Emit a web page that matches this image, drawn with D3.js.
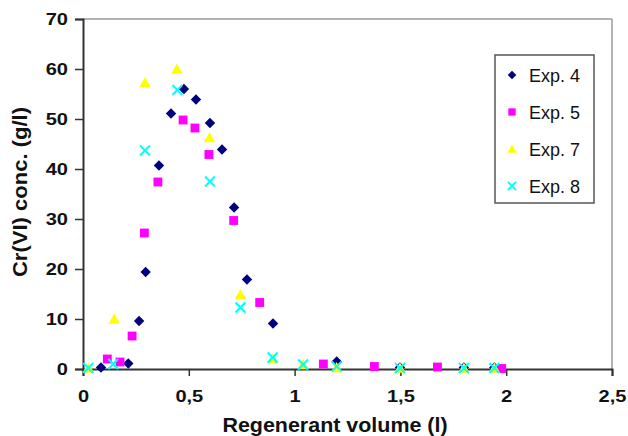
<!DOCTYPE html>
<html><head><meta charset="utf-8">
<script src="https://cdn.jsdelivr.net/npm/d3@7"></script>
<style>body{margin:0;background:#fff}svg{display:block}text{font-family:"Liberation Sans",Arial,sans-serif}</style>
</head><body>
<svg id="c" width="628" height="436"></svg>
<script>
const seriesNames = ["Exp. 4","Exp. 5","Exp. 7","Exp. 8"];
const exp4X = [0.085,0.214,0.265,0.296,0.359,0.416,0.477,0.534,0.600,0.657,0.714,0.775,0.898,1.199,1.498,1.80,1.944];
const exp4Y = [0.3,1.1,9.6,19.4,40.7,51.1,56.0,53.9,49.2,43.9,32.3,17.9,9.1,1.5,0.3,0.3,0.3];
const exp5X = [0.115,0.175,0.232,0.290,0.354,0.473,0.529,0.595,0.712,0.835,1.136,1.377,1.675,1.979];
const exp5Y = [2.0,1.4,6.6,27.2,37.4,49.8,48.2,42.9,29.7,13.3,1.0,0.5,0.4,0.1];
const exp7X = [0.025,0.148,0.293,0.444,0.598,0.744,0.896,1.04,1.199,1.498,1.80,1.944];
const exp7Y = [0.2,10.0,57.3,60.0,46.3,14.9,2.1,0.9,0.3,0.2,0.2,0.2];
const exp8X = [0.025,0.143,0.293,0.446,0.600,0.744,0.896,1.04,1.199,1.498,1.80,1.944];
const exp8Y = [0.2,1.0,43.7,55.8,37.5,12.3,2.3,0.9,0.5,0.2,0.2,0.2];
const xTicks = [0,0.5,1,1.5,2,2.5];
const yTicks = [0,10,20,30,40,50,60,70];

const svg = d3.select("#c");
const x = d3.scaleLinear().domain([0,2.5]).range([83,612]);
const y = d3.scaleLinear().domain([0,70]).range([369,19]);
const fmt = d => String(d).replace(".", ",");

// frame top/right
svg.append("line").attr("x1",83).attr("x2",612).attr("y1",19).attr("y2",19).attr("stroke","#9a9a9a").attr("stroke-width",1.5);
svg.append("line").attr("x1",612).attr("x2",612).attr("y1",19).attr("y2",369).attr("stroke","#9a9a9a").attr("stroke-width",1.5);

const sx = 1.18;
const gx = svg.append("g").attr("transform","translate(0,369)")
  .call(d3.axisBottom(x).tickValues(xTicks).tickFormat(fmt).tickSize(7).tickPadding(13.5));
const gy = svg.append("g").attr("transform","translate(83,0)")
  .call(d3.axisLeft(y).tickValues(yTicks).tickSize(8).tickPadding(7));
[gx,gy].forEach(g=>{
  g.select(".domain").attr("stroke","#333").attr("stroke-width",2);
  g.selectAll(".tick line").attr("stroke","#333").attr("stroke-width",1.5);
  g.selectAll(".tick text").attr("fill","#111").style("font-size","17px").style("font-weight","bold")
    .attr("transform",`scale(${sx},1)`);
});
gy.selectAll(".tick text").attr("x", -15/sx);

svg.append("text").attr("transform","translate(335,431.5) scale(1.1,1)").attr("text-anchor","middle")
  .style("font-size","19.5px").style("font-weight","bold").attr("fill","#111").text("Regenerant volume (l)");
svg.append("text").attr("transform","translate(27,192) rotate(-90) scale(1.13,1)").attr("text-anchor","middle")
  .style("font-size","19.5px").style("font-weight","bold").attr("fill","#111").text("Cr(VI) conc. (g/l)");

const colors = ["#000080","#ff00ff","#ffff00","#00ffff"];
function drawMarker(g, k, cx, cy, s) {
  if (k===0) g.append("path").attr("d",`M${cx},${cy-s}L${cx+s},${cy}L${cx},${cy+s}L${cx-s},${cy}Z`).attr("fill",colors[0]);
  else if (k===1) g.append("rect").attr("x",cx-s*0.85).attr("y",cy-s*0.85).attr("width",s*1.7).attr("height",s*1.7).attr("fill",colors[1]);
  else if (k===2) g.append("path").attr("d",`M${cx},${cy-s*1.05}L${cx+s*1.1},${cy+s*0.9}L${cx-s*1.1},${cy+s*0.9}Z`).attr("fill",colors[2]);
  else g.append("path").attr("d",`M${cx-s*0.95},${cy-s*0.95}L${cx+s*0.95},${cy+s*0.95}M${cx-s*0.95},${cy+s*0.95}L${cx+s*0.95},${cy-s*0.95}`).attr("stroke",colors[3]).attr("stroke-width",2).attr("fill","none");
}
const data = [[exp4X,exp4Y],[exp5X,exp5Y],[exp7X,exp7Y],[exp8X,exp8Y]];
data.forEach(([xs,ys],k)=>{
  const g = svg.append("g");
  xs.forEach((v,i)=>drawMarker(g,k,x(v),y(ys[i]),5.2));
});

// legend
const lg = svg.append("g");
lg.append("rect").attr("x",495).attr("y",55).attr("width",99).attr("height",148).attr("fill","#fff").attr("stroke","#555").attr("stroke-width",1.5);
const ly = [75,112,149,186];
seriesNames.forEach((n,k)=>{
  drawMarker(lg,k,512,ly[k],4.3);
  lg.append("text").attr("x",529).attr("y",ly[k]+6.5).style("font-size","18px").attr("fill","#111").text(n);
});
</script>
</body></html>
